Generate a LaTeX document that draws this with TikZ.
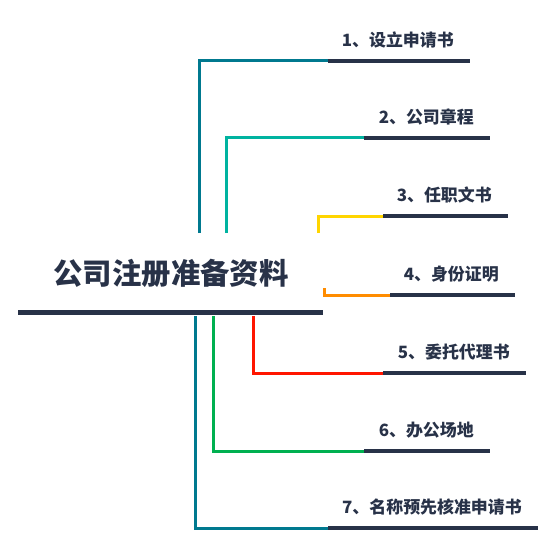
\documentclass[tikz,border=0pt]{standalone}
\usepackage{fontspec}
\setmainfont{Noto Sans CJK SC}
\usepackage{tikz}
\usetikzlibrary{positioning}
\definecolor{ink}{HTML}{283248}
\definecolor{cteal}{HTML}{00798F}
\definecolor{cturq}{HTML}{00B3A0}
\definecolor{cyel}{HTML}{FFD500}
\definecolor{cora}{HTML}{FF8C00}
\definecolor{cred}{HTML}{FF1500}
\definecolor{cgrn}{HTML}{00B050}

\begin{document}
\begin{tikzpicture}[x=1bp,y=-1bp, lbl/.style={anchor=east,inner sep=0pt,text=ink,font=\bfseries\fontsize{17}{17}\selectfont}, br/.style={line width=3bp,line join=miter}, base/.style={draw=ink,line width=4bp}]
\useasboundingbox (0,0) rectangle (557,546);
\node[text=ink,font=\bfseries\fontsize{29.5}{29.5}\selectfont] (root) at (171,273) {公司注册准备资料};
\coordinate (ul) at (18,312);
\coordinate (ur) at (323,312);
\draw[ink,line width=5bp] (ul) -- (ur);
\foreach \i/\c/\x/\ys/\y/\j/\e/\t in {1/cteal/199/233/61/328/470/{1、设立申请书}, 2/cturq/226/233/138/364/490/{2、公司章程}, 3/cyel/318/233/216/383/508/{3、任职文书}, 4/cora/324/288/295/390/515/{4、身份证明}, 5/cred/253/316/373/383/526/{5、委托代理书}, 6/cgrn/213/316/451/364/490/{6、办公场地}, 7/cteal/195/316/528/328/538/{7、名称预先核准申请书}}{
  \coordinate (s\i) at (\x,\ys);
  \coordinate (c\i) at (\x,\y);
  \coordinate (j\i) at (\j,\y);
  \coordinate (e\i) at (\e,\y);
  \node[lbl] (l\i) at ([xshift=-16bp,yshift=21bp]e\i) {\t};
  \draw[br,\c] (s\i) -- (c\i) -- (j\i);
  \draw[base] (j\i) -- (e\i);
}
\end{tikzpicture}
\end{document}
